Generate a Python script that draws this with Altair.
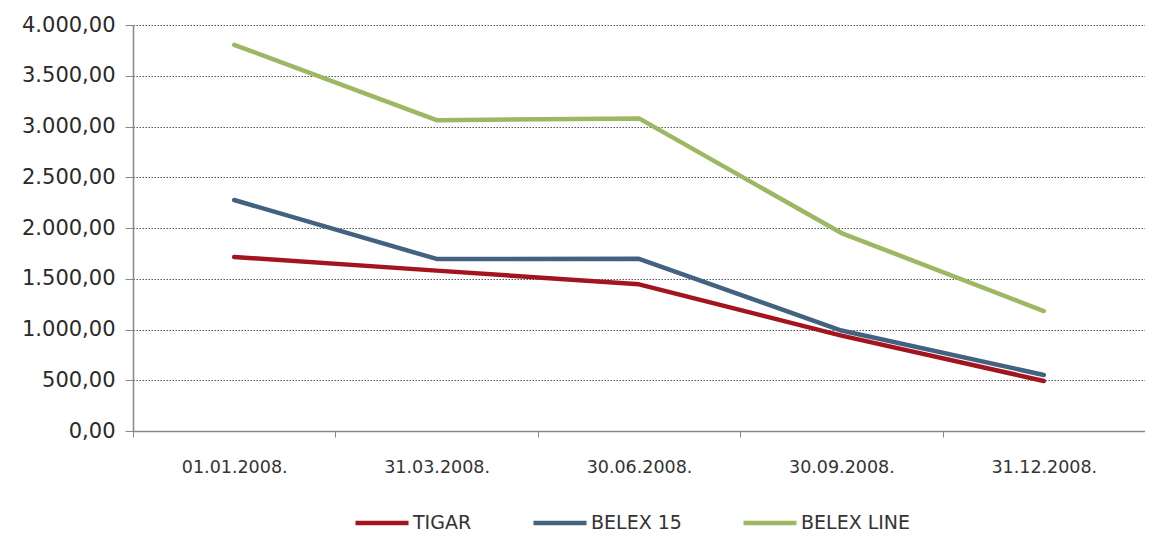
import altair as alt
import pandas as pd

dates = ["01.01.2008.", "31.03.2008.", "30.06.2008.", "30.09.2008.", "31.12.2008."]
series_names = ["TIGAR", "BELEX 15", "BELEX LINE"]
tigar = [1714, 1580, 1445, 940, 493]
belex15 = [2276, 1695, 1697, 990, 552]
belexline = [3805, 3062, 3080, 1950, 1182]
colors = ["#A3141F", "#436180", "#9CB862"]

rows = []
for name, vals in zip(series_names, [tigar, belex15, belexline]):
    for d, v in zip(dates, vals):
        rows.append({"date": d, "series": name, "value": v})
df = pd.DataFrame(rows)

label_expr = "replace(replace(replace(format(datum.value, ',.2f'), ',', '#'), '.', ','), '#', '.')"

chart = alt.Chart(df).mark_line(strokeWidth=4.5, strokeCap="round", strokeJoin="round").encode(
    x=alt.X("date:N", sort=dates, title=None,
            scale=alt.Scale(paddingInner=0, paddingOuter=0),
            axis=alt.Axis(labelAngle=0, tickBand="extent", tickSize=6, tickColor="#888",
                          domainColor="#888", domainWidth=1.5, labelFont="DejaVu Sans",
                          labelFontSize=17.5, labelColor="#333", labelPadding=21, grid=False)),
    y=alt.Y("value:Q", title=None,
            scale=alt.Scale(domain=[0, 4000], nice=False),
            axis=alt.Axis(values=[0, 500, 1000, 1500, 2000, 2500, 3000, 3500, 4000],
                          labelExpr=label_expr, labelFont="DejaVu Sans", labelFontSize=21,
                          labelColor="#2a2a2a", labelPadding=10, tickSize=8, tickColor="#888",
                          domainColor="#888", domainWidth=1.5, grid=True, gridColor="#555",
                          gridDash=[1.5, 1.5], gridWidth=1.2)),
    color=alt.Color("series:N",
                    scale=alt.Scale(domain=series_names, range=colors),
                    legend=alt.Legend(title=None, orient="none", direction="horizontal",
                                      legendX=220, legendY=469, symbolType="stroke",
                                      symbolSize=2809, symbolStrokeWidth=4.5,
                                      labelFont="DejaVu Sans", labelFontSize=19,
                                      labelColor="#333", labelOffset=2, columnPadding=52)),
    order=alt.Order("series:N", sort="ascending"),
).properties(
    width=1012, height=406,
    autosize=alt.AutoSizeParams(type="none"),
    padding={"left": 125, "top": 17, "right": 0, "bottom": 104},
).configure_view(stroke=None)

chart.save("out.html", embed_options={"renderer": "svg", "actions": False})
